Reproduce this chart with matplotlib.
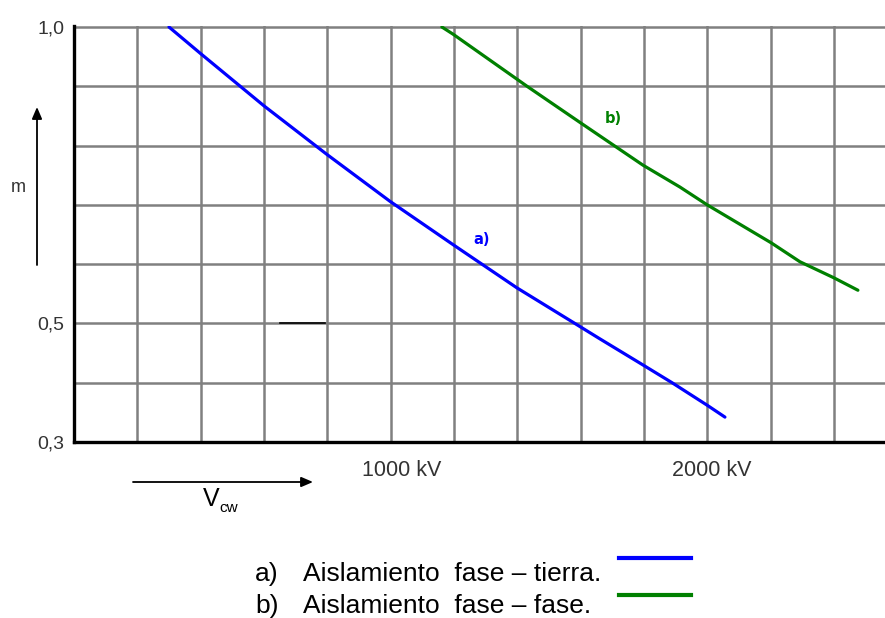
import matplotlib
matplotlib.use("Agg")
import matplotlib.pyplot as plt
from matplotlib.transforms import blended_transform_factory

# Curve a) phase-to-earth insulation
v_a = [300, 398, 600, 799, 998, 1197, 1399, 1582, 1661, 1797, 1889, 2000, 2056]
m_a = [1.0, 0.956, 0.867, 0.785, 0.706, 0.633, 0.560, 0.500, 0.474, 0.430, 0.400, 0.362, 0.342]

# Curve b) phase-to-phase insulation
v_b = [1162, 1197, 1431, 1601, 1797, 1914, 2000, 2202, 2293, 2400, 2476]
m_b = [1.0, 0.988, 0.900, 0.838, 0.767, 0.730, 0.700, 0.636, 0.604, 0.577, 0.556]

y_ticks = [0.3, 0.5, 1.0]
y_tick_labels = ["0,3", "0,5", "1,0"]
x_labels = ["1000 kV", "2000 kV"]
legend_texts = ["Aislamiento  fase – tierra.", "Aislamiento  fase – fase."]

BLUE = "#0000FF"
GREEN = "#008000"
GRID = "#808080"
TXT = "#333333"

W, H = 885, 618
fig = plt.figure(figsize=(W / 100, H / 100), dpi=100)
fig.patch.set_facecolor("white")

# axes box in pixel terms: left 74, right 885, top 27, bottom 442
x_per_px = 1000 / 316.6
ax = fig.add_axes([74 / W, (H - 442) / H, (W - 74) / W, (442 - 27 + 1.5) / H])
ax.set_xlim(0, (W - 74) * x_per_px)
ax.set_ylim(0.3, 1.0 + 1.5 / 593)

# grid
for gx in range(200, 2600, 200):
    ax.axvline(gx, color=GRID, lw=1.8, zorder=1)
for gy in [0.4, 0.5, 0.6, 0.7, 0.8, 0.9, 1.0]:
    ax.axhline(gy, color=GRID, lw=1.8, zorder=1)

for s in ["top", "right"]:
    ax.spines[s].set_visible(False)
for s in ["left", "bottom"]:
    ax.spines[s].set_color("black")
    ax.spines[s].set_linewidth(2.4)
    ax.spines[s].set_zorder(3)

ax.set_xticks([])
ax.set_yticks(y_ticks)
ax.set_yticklabels(y_tick_labels, fontsize=14, color=TXT, family="Liberation Sans")
ax.tick_params(axis="y", length=0, pad=7)

# curves
ax.plot(v_a, m_a, color=BLUE, lw=2.3, zorder=4, solid_capstyle="round", solid_joinstyle="round")
ax.plot(v_b, m_b, color=GREEN, lw=2.3, zorder=4, solid_capstyle="round", solid_joinstyle="round")

ax.text(1289, 0.642, "a)", color=BLUE, fontsize=10.5, fontweight="bold",
        ha="center", va="center", family="DejaVu Sans")
ax.text(1702, 0.846, "b)", color=GREEN, fontsize=10.5, fontweight="bold",
        ha="center", va="center", family="DejaVu Sans")

# short dash on the 0,5 line
ax.plot([651, 793], [0.5, 0.5], color="black", lw=1.2, zorder=2)

# kV labels under the axis
tr = blended_transform_factory(ax.transData, ax.transAxes)
for xv, lab in zip([1036, 2015], x_labels):
    ax.text(xv, -0.068, lab, transform=tr, ha="center", va="center",
            fontsize=15.5, color=TXT, family="Liberation Sans")

# axis arrows
fig_px = "figure pixels"
ax.annotate("", xy=(37, H - 107), xycoords=fig_px, xytext=(37, H - 265), textcoords=fig_px,
            arrowprops=dict(arrowstyle="-|>,head_length=0.7,head_width=0.3", color="black",
                            lw=1.3, shrinkA=0, shrinkB=0), annotation_clip=False)
ax.annotate("", xy=(313, H - 482), xycoords=fig_px, xytext=(133, H - 482), textcoords=fig_px,
            arrowprops=dict(arrowstyle="-|>,head_length=0.7,head_width=0.3", color="black",
                            lw=1.3, shrinkA=0, shrinkB=0), annotation_clip=False)

fig.text(18 / W, (H - 187) / H, "m", fontsize=13, color=TXT, ha="center", va="center",
         family="Liberation Sans")
fig.text(211 / W, (H - 499) / H, "V", fontsize=18, color="black", ha="center", va="center",
         family="Liberation Sans")
fig.text(219 / W, (H - 508) / H, "cw", fontsize=11, color="black", ha="left", va="center",
         family="Liberation Sans")

# legend block
rows_y = [574, 606]
line_y = [558, 595]
for i, (lab, col) in enumerate(zip(legend_texts, [BLUE, GREEN])):
    fig.text(255 / W, (H - rows_y[i]) / H, "ab"[i] + ")", fontsize=19, color="black",
             ha="left", va="center", family="Liberation Sans")
    fig.text(303 / W, (H - rows_y[i]) / H, lab, fontsize=19, color="black",
             ha="left", va="center", family="Liberation Sans")
    fig.add_artist(plt.Line2D([619 / W, 691 / W], [(H - line_y[i]) / H] * 2,
                              transform=fig.transFigure, color=col, lw=3))

fig.savefig("out.png", dpi=100, facecolor="white")
